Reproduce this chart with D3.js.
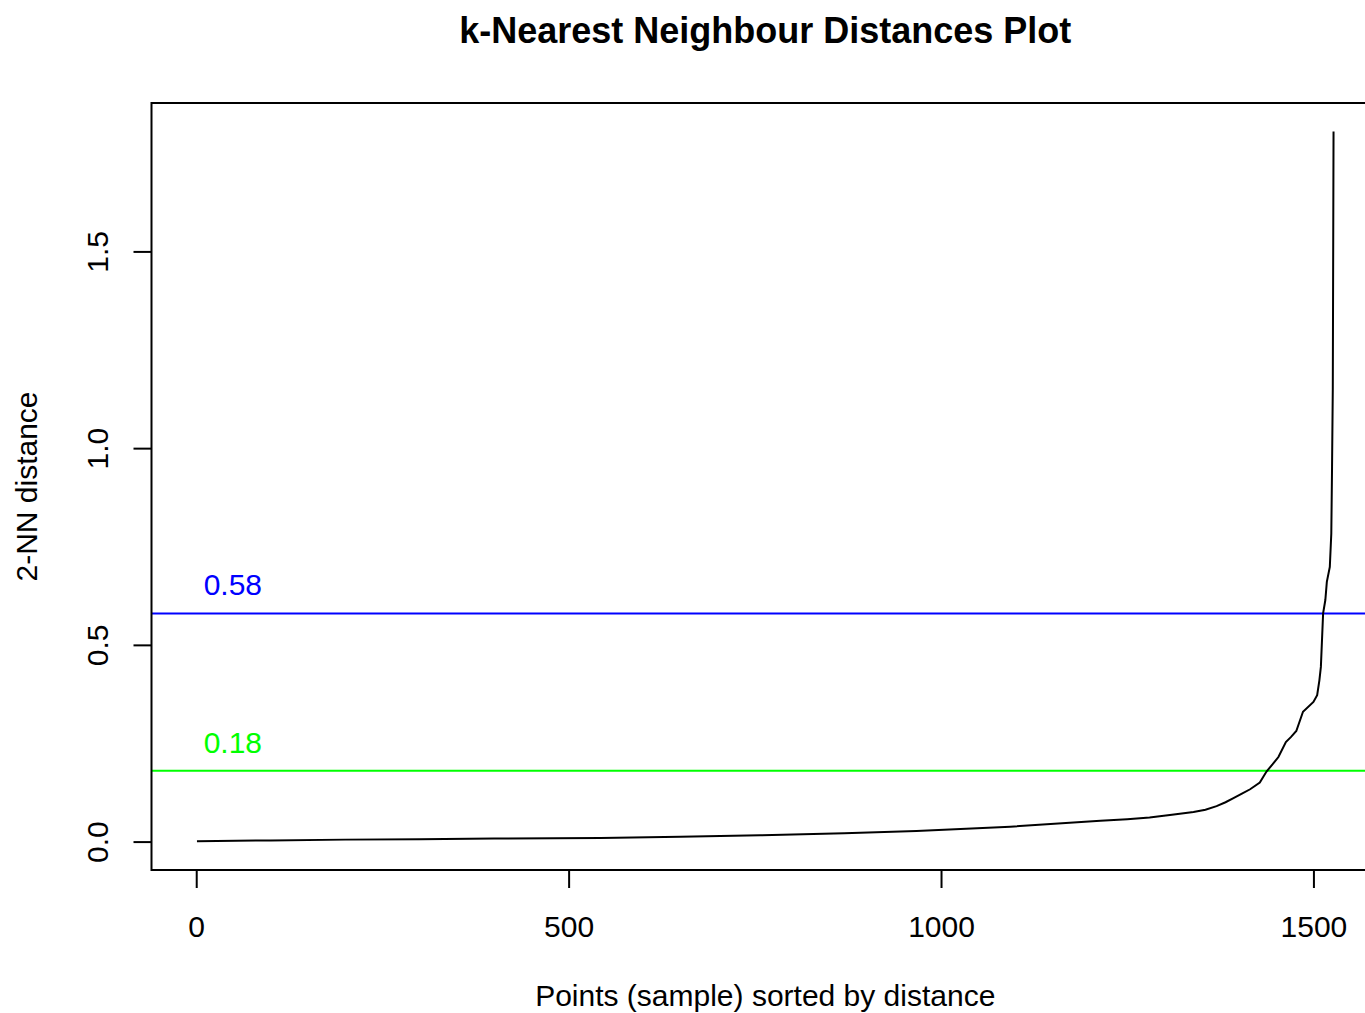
<!DOCTYPE html>
<html><head><meta charset="utf-8">
<script src="https://cdn.jsdelivr.net/npm/d3@7"></script>
<style>body{margin:0;background:#fff}svg{display:block}text{font-family:"Liberation Sans",Arial,Helvetica,sans-serif}</style>
</head><body>
<script>
// Sorted 2-NN distances: sample index and distance
const pointIndex = [1,100,200,300,400,543,650,757,870,967,1093,1214,1250,1280,1310,1339,1355,1370,1382,1392,1404,1415,1428,1437,1445,1453,1463,1470,1477,1486,1500,1505,1508,1510,1513,1516,1518,1522,1524,1525,1526,1527];
const distance   = [0.001,0.003,0.005,0.006,0.008,0.009,0.012,0.016,0.021,0.027,0.038,0.053,0.057,0.061,0.068,0.075,0.081,0.090,0.100,0.110,0.122,0.133,0.150,0.178,0.196,0.215,0.253,0.266,0.281,0.330,0.355,0.372,0.410,0.444,0.580,0.614,0.660,0.698,0.783,0.953,1.150,1.805];
const xTicks = [0,500,1000,1500];
const yTicks = [0.0,0.5,1.0,1.5];
const refValues = [0.58,0.18];
const refLabels = ["0.58","0.18"];
const refColors = ["#0000ff","#00ff00"];

const W=1365,H=1013;
const L=151.5,R=1379,T=103,B=870;
const svg=d3.select("body").append("svg").attr("width",W).attr("height",H);
const n=pointIndex[pointIndex.length-1];
const xpad=0.04*(n-1), ymax=d3.max(distance), ypad=0.04*ymax;
const x=d3.scaleLinear().domain([1-xpad,n+xpad]).range([L,R]);
const y=d3.scaleLinear().domain([-ypad,ymax+ypad]).range([B,T]);

svg.append("text").attr("x",(L+R)/2).attr("y",43).attr("text-anchor","middle")
  .attr("font-weight","bold").attr("font-size",36).text("k-Nearest Neighbour Distances Plot");

// reference lines
refValues.forEach((v,i)=>{
  svg.append("line").attr("x1",L).attr("x2",R).attr("y1",y(v)).attr("y2",y(v))
    .attr("stroke",refColors[i]).attr("stroke-width",2);
  svg.append("text").attr("x",x(10)).attr("y",y(v)-18).attr("fill",refColors[i])
    .attr("font-size",30).text(refLabels[i]);
});

const pts=pointIndex.map((d,i)=>[d,distance[i]]);
svg.append("path").datum(pts).attr("fill","none").attr("stroke","#000").attr("stroke-width",2)
  .attr("d",d3.line().x(d=>x(d[0])).y(d=>y(d[1])));

// box
svg.append("rect").attr("x",L).attr("y",T).attr("width",R-L).attr("height",B-T)
  .attr("fill","none").attr("stroke","#000").attr("stroke-width",2);

// x axis
const xa=svg.append("g").attr("transform",`translate(0,${B})`)
  .call(d3.axisBottom(x).tickValues(xTicks).tickSize(18).tickPadding(28).tickFormat(d3.format("d")));
xa.select(".domain").remove();
xa.selectAll("line").attr("stroke-width",2);
xa.selectAll("text").attr("font-size",30).attr("font-family","Liberation Sans, Arial, sans-serif").attr("fill","#000");

// y axis
const ya=svg.append("g").attr("transform",`translate(${L},0)`)
  .call(d3.axisLeft(y).tickValues(yTicks).tickSize(18).tickFormat(d3.format(".1f")));
ya.select(".domain").remove();
ya.selectAll("line").attr("stroke-width",2);
ya.selectAll("text").attr("font-size",30).attr("font-family","Liberation Sans, Arial, sans-serif").attr("fill","#000")
  .attr("x",null).attr("dy",null).attr("text-anchor","middle")
  .attr("transform","translate(-44,0) rotate(-90)");

svg.append("text").attr("x",(L+R)/2).attr("y",1006).attr("text-anchor","middle")
  .attr("font-size",30).text("Points (sample) sorted by distance");
svg.append("text").attr("transform",`translate(37,${(T+B)/2}) rotate(-90)`).attr("text-anchor","middle")
  .attr("font-size",30).text("2-NN distance");
</script>
</body></html>
